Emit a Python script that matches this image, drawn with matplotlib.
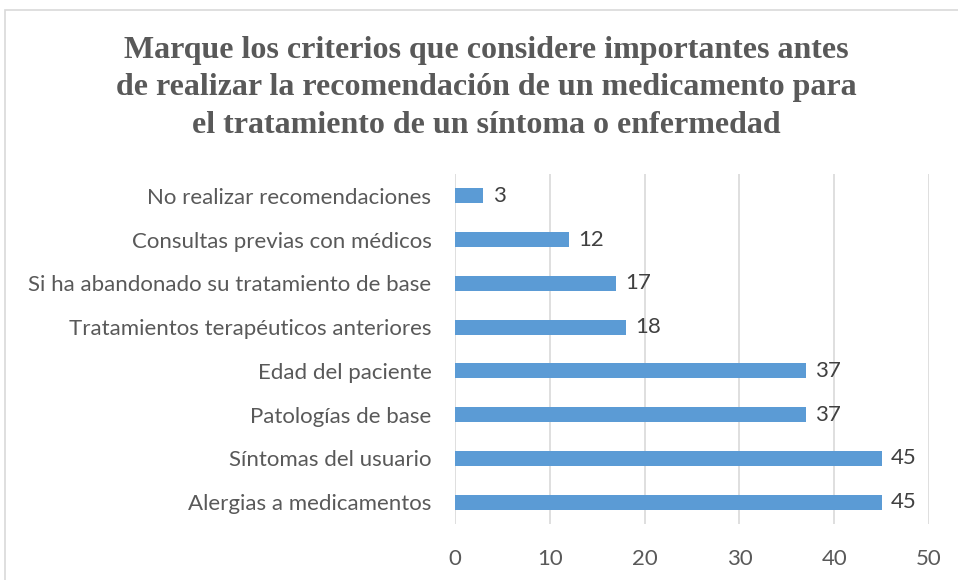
import matplotlib.pyplot as plt
from matplotlib.patches import Rectangle

categories = [
    "Alergias a medicamentos",
    "Síntomas del usuario",
    "Patologías de base",
    "Edad del paciente",
    "Tratamientos terapéuticos anteriores",
    "Si ha abandonado su tratamiento de base",
    "Consultas previas con médicos",
    "No realizar recomendaciones",
]
values = [45, 45, 37, 37, 18, 17, 12, 3]
xticks = [0, 10, 20, 30, 40, 50]

title = ("Marque los criterios que considere importantes antes\n"
         "de realizar la recomendación de un medicamento para\n"
         "el tratamiento de un síntoma o enfermedad")

BAR_COLOR = "#5B9BD5"
TEXT_COLOR = "#595959"
LABEL_FONT = "Lato"

fig = plt.figure(figsize=(9.58, 5.8), dpi=100)
fig.patches.append(Rectangle((5 / 958, -0.02), 1.0, 1 - 10 / 580 + 0.02,
                             transform=fig.transFigure, fill=False,
                             edgecolor="#d9d9d9", linewidth=1.2))

ax = fig.add_axes([455 / 958, 1 - 524 / 580, (929 - 455) / 958, (524 - 174) / 580])
ypos = list(range(len(categories)))
ax.barh(ypos, values, height=0.34, color=BAR_COLOR, zorder=3)

for y, v in zip(ypos, values):
    ax.text(v + 1.0, y, str(v), va="center", ha="left", fontsize=16,
            color="#404040", family=LABEL_FONT)

ax.set_xlim(0, 50)
ax.set_ylim(-0.5, len(categories) - 0.5)
ax.set_xticks(xticks)
ax.set_xticklabels([str(t) for t in xticks], fontsize=16, color=TEXT_COLOR,
                   family=LABEL_FONT)
ax.set_yticks(ypos)
ax.set_yticklabels(categories, fontsize=16, color=TEXT_COLOR, family=LABEL_FONT)
ax.tick_params(axis="both", length=0)
ax.tick_params(axis="x", pad=18)
ax.tick_params(axis="y", pad=17)
ax.grid(axis="x", color="#d9d9d9", linewidth=1.2, zorder=0)
for side in ["top", "right", "bottom", "left"]:
    ax.spines[side].set_visible(False)

fig.text(486 / 958, 1 - 88 / 580, title, ha="center", va="center",
         fontsize=23, fontweight="bold", family="Liberation Serif",
         color=TEXT_COLOR, linespacing=1.38)

fig.savefig("out.png", dpi=100)
